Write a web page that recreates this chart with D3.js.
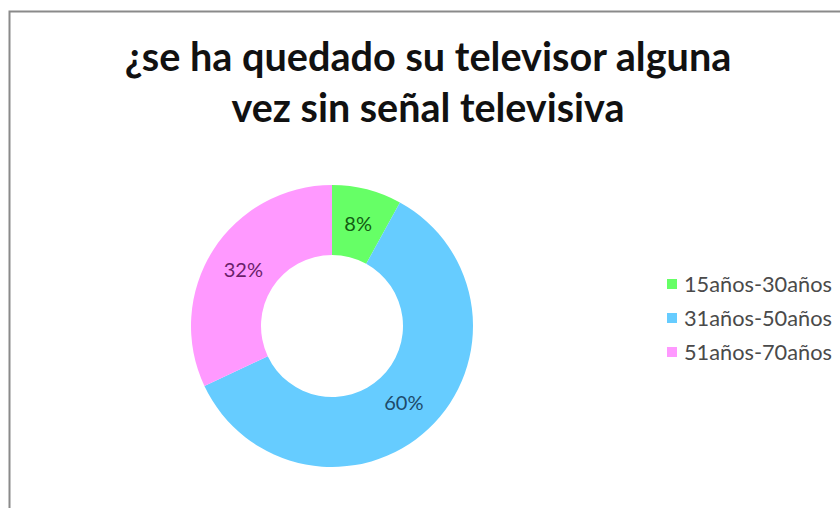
<!DOCTYPE html>
<html>
<head>
<meta charset="utf-8">
<script src="https://cdn.jsdelivr.net/npm/d3@7"></script>
<style>
  html, body { margin: 0; padding: 0; background: #fff; }
  svg { display: block; }
</style>
</head>
<body>
<svg id="chart" width="840" height="508"></svg>
<script>
// Survey results: share of respondents per age group
const titleLines = ["¿se ha quedado su televisor alguna", "vez sin señal televisiva"];
const categories = ["15años-30años", "31años-50años", "51años-70años"];
const values = [8, 60, 32];
const sliceColors = ["#66FF66", "#66CCFF", "#FF99FF"];
const labelColors = ["#125c12", "#1d4a6a", "#6a1f6a"];

const svg = d3.select("#chart");
const FONT = "Lato, 'Open Sans', 'DejaVu Sans', sans-serif";

// Chart frame
svg.append("rect")
  .attr("x", 9.5).attr("y", 11.5)
  .attr("width", 900).attr("height", 600)
  .attr("fill", "#fff")
  .attr("stroke", "#8a8a8a")
  .attr("stroke-width", 2);

// Fit a text node to a target width by adjusting its font size
function fitWidth(sel, target) {
  const w = sel.node().getComputedTextLength();
  const fs = parseFloat(sel.attr("font-size"));
  sel.attr("font-size", fs * target / w);
}

// Title
const titleWidths = [607, 393];
const titleY = [71, 122];
titleLines.forEach((t, i) => {
  const tx = svg.append("text")
    .attr("x", 428).attr("y", titleY[i])
    .attr("text-anchor", "middle")
    .attr("font-family", FONT)
    .attr("font-weight", "bold")
    .attr("font-size", 36)
    .attr("fill", "#111")
    .text(t);
  fitWidth(tx, titleWidths[i]);
});

// Donut
const cx = 332, cy = 326, outerR = 141, innerR = 71;
const pie = d3.pie().value(d => d).sort(null);
const arc = d3.arc().innerRadius(innerR).outerRadius(outerR);
const labelArc = d3.arc().innerRadius(105).outerRadius(105);
const arcs = pie(values);

const g = svg.append("g").attr("transform", `translate(${cx},${cy})`);
g.selectAll("path.slice")
  .data(arcs)
  .join("path")
  .attr("class", "slice")
  .attr("d", arc)
  .attr("fill", (d, i) => sliceColors[i]);

g.selectAll("text.val")
  .data(arcs)
  .join("text")
  .attr("class", "val")
  .attr("transform", d => `translate(${labelArc.centroid(d)})`)
  .attr("text-anchor", "middle")
  .attr("dy", "0.35em")
  .attr("font-family", FONT)
  .attr("font-size", 20)
  .attr("fill", (d, i) => labelColors[i])
  .text(d => d.data + "%");

// Legend
const legendY = d3.scalePoint().domain(categories).range([284, 352]);
const leg = svg.append("g");
categories.forEach((c, i) => {
  const y = legendY(c);
  leg.append("rect")
    .attr("x", 667).attr("y", y - 5)
    .attr("width", 10).attr("height", 10)
    .attr("fill", sliceColors[i]);
  const t = leg.append("text")
    .attr("x", 684).attr("y", y)
    .attr("dy", "0.35em")
    .attr("font-family", FONT)
    .attr("font-size", 20)
    .attr("fill", "#4a4a4a")
    .text(c);
  fitWidth(t, 148);
});
</script>
</body>
</html>
